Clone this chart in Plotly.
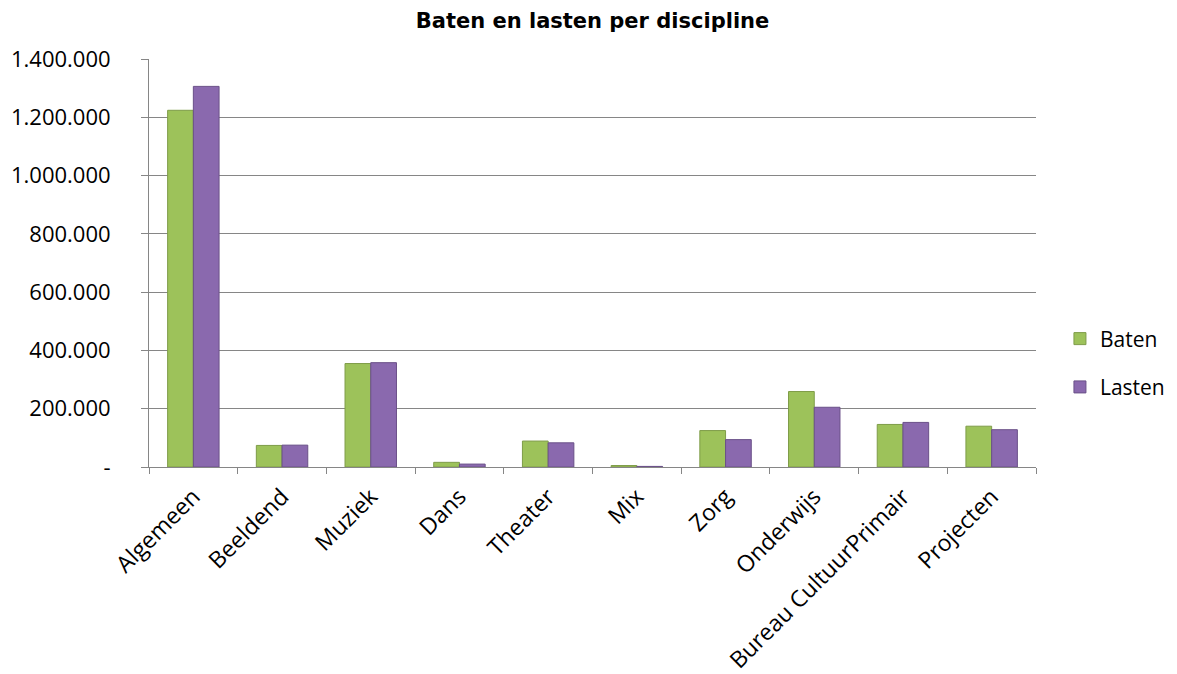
import plotly.graph_objects as go

categories = ["Algemeen", "Beeldend", "Muziek", "Dans", "Theater", "Mix", "Zorg",
              "Onderwijs", "Bureau CultuurPrimair", "Projecten"]
baten = [1224000, 74000, 355000, 16000, 89000, 5000, 125000, 259000, 146000, 140000]
lasten = [1306000, 75000, 358000, 10000, 83000, 2000, 94000, 205000, 153000, 128000]
y_tick_values = [0, 200000, 400000, 600000, 800000, 1000000, 1200000, 1400000]
y_tick_labels = ["-", "200.000", "400.000", "600.000", "800.000", "1.000.000", "1.200.000", "1.400.000"]

fig = go.Figure()
fig.add_trace(go.Bar(name="Baten", x=categories, y=baten, legendgroup="b",
                     marker=dict(color="#9DC25A", line=dict(color="#7E9C48", width=1))))
fig.add_trace(go.Bar(name="Lasten", x=categories, y=lasten, legendgroup="l",
                     marker=dict(color="#8A69AE", line=dict(color="#6A5088", width=1))))

fig.update_layout(
    width=1177, height=674,
    paper_bgcolor="white", plot_bgcolor="white",
    margin=dict(l=149, r=141, t=59, b=207, autoexpand=False),
    barmode="group", bargap=0.42, bargroupgap=0,
    title=dict(text="<b>Baten en lasten per discipline</b>", x=0.5, xref="paper",
               xanchor="center", y=0.970, yref="container", yanchor="middle",
               font=dict(family="DejaVu Sans, Verdana, sans-serif", size=21, color="black")),
    font=dict(family="Open Sans, sans-serif", size=22, color="black"),
    legend=dict(x=1.027, y=0.255, xanchor="left", yanchor="middle",
                font=dict(size=21), tracegroupgap=18, itemwidth=30),
    showlegend=True,
)
fig.update_yaxes(range=[0, 1400000], tickvals=y_tick_values, ticktext=y_tick_labels,
                 showgrid=True, gridcolor="#868686", gridwidth=1,
                 showline=True, linecolor="#868686", linewidth=1,
                 ticks="outside", ticklen=7, tickcolor="#868686", zeroline=False,
                 ticklabelstandoff=26)
fig.update_xaxes(tickangle=-45, showline=True, linecolor="#868686", linewidth=1,
                 ticks="outside", ticklen=6, tickcolor="#868686", tickson="boundaries",
                 showgrid=False, ticklabelstandoff=6, tickfont=dict(size=23))

fig.write_html("out.html")
